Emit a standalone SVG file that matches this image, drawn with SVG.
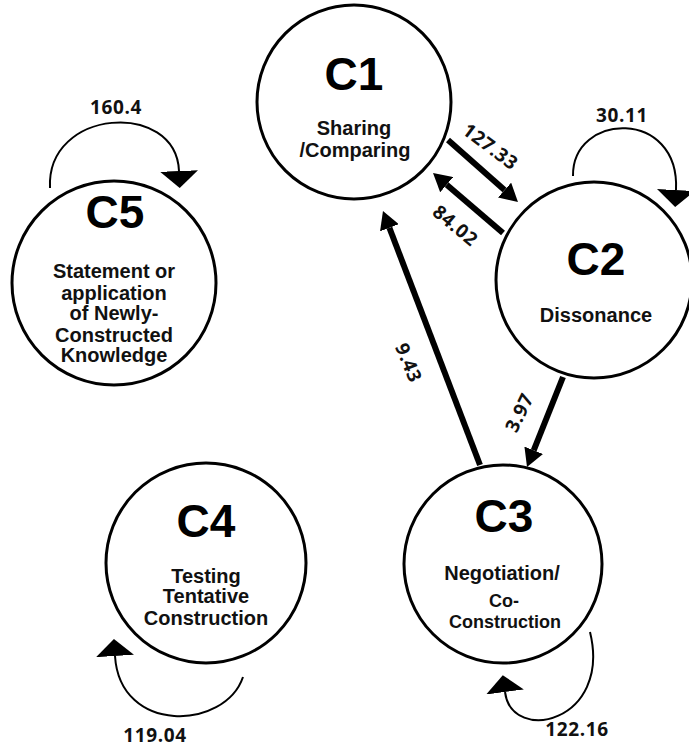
<svg xmlns="http://www.w3.org/2000/svg" width="689" height="749" viewBox="0 0 689 749">
<style>
.node{fill:#fff;stroke:#000;stroke-width:3}
.title{font-family:"Liberation Sans",Arial,sans-serif;font-weight:bold;font-size:46px;text-anchor:middle;fill:#000}
.body{font-family:"Liberation Sans",Arial,sans-serif;font-weight:bold;font-size:20px;text-anchor:middle;fill:#111}
.small{font-size:18px}
.edge{fill:none;stroke:#000;stroke-width:6}
.loop{fill:none;stroke:#000;stroke-width:2}
.lbl{font-family:"Open Sans","Liberation Sans",sans-serif;font-weight:bold;font-size:19px;letter-spacing:0.6px;text-anchor:middle;fill:#111}
</style>
<defs>
<marker id="head" markerUnits="userSpaceOnUse" markerWidth="18" markerHeight="20" refX="0" refY="10" orient="auto">
<path d="M0,0 L18,10 L0,20 Z" fill="#000"/>
</marker>
<marker id="loophead" markerUnits="userSpaceOnUse" markerWidth="18" markerHeight="38" refX="0" refY="19" orient="auto">
<path d="M0,0 L17,19 L0,38 Z" fill="#000"/>
</marker>
</defs>
<rect width="689" height="749" fill="#fff"/>

<g id="connectors">
<line class="edge" x1="448" y1="140" x2="504.5" y2="190.1" marker-end="url(#head)"/>
<line class="edge" x1="503" y1="233" x2="446.7" y2="184.7" marker-end="url(#head)"/>
<line class="edge" x1="480" y1="465" x2="389.4" y2="227.8" marker-end="url(#head)"/>
<line class="edge" x1="563" y1="377" x2="533.7" y2="450.3" marker-end="url(#head)"/>
<path class="loop" d="M50,188 C46,108 176,100 179,171" marker-end="url(#loophead)"/>
<path class="loop" d="M573,176 C572,112 680,108 676,190" marker-end="url(#loophead)"/>
<path class="loop" d="M590,632 C612,722 512,745 505,692" marker-end="url(#loophead)"/>
<path class="loop" d="M243,677 C225,730 120,735 115,656" marker-end="url(#loophead)"/>
<text class="lbl" x="116" y="114">160.4</text>
<text class="lbl" x="622" y="122">30.11</text>
<text class="lbl" x="155" y="742">119.04</text>
<text class="lbl" x="577" y="736">122.16</text>
<text class="lbl" transform="translate(490,147) rotate(37)" y="6">127.33</text>
<text class="lbl" transform="translate(455,226) rotate(40)" y="6">84.02</text>
<text class="lbl" transform="translate(408,363) rotate(68)" y="6">9.43</text>
<text class="lbl" transform="translate(520,413) rotate(-64)" y="6">3.97</text>
</g>

<g id="C1">
<circle class="node" cx="354" cy="102" r="97"/>
<text class="title" x="354" y="90">C1</text>
<text class="body" x="354" y="135">Sharing</text>
<text class="body" x="355" y="157">/Comparing</text>
</g>

<g id="C2">
<circle class="node" cx="594" cy="280" r="98"/>
<text class="title" x="596" y="275">C2</text>
<text class="body" x="596" y="322">Dissonance</text>
</g>

<g id="C3">
<circle class="node" cx="503" cy="564" r="99"/>
<text class="title" x="504" y="532">C3</text>
<text class="body" x="502" y="580">Negotiation/</text>
<text class="body small" x="504" y="607">Co-</text>
<text class="body small" x="505" y="628">Construction</text>
</g>

<g id="C4">
<circle class="node" cx="206" cy="563" r="100"/>
<text class="title" x="206" y="537">C4</text>
<text class="body" x="206" y="583">Testing</text>
<text class="body" x="206" y="603">Tentative</text>
<text class="body" x="206" y="625">Construction</text>
</g>

<g id="C5">
<circle class="node" cx="114" cy="283" r="102"/>
<text class="title" x="115" y="228">C5</text>
<text class="body" x="114" y="278">Statement or</text>
<text class="body" x="114" y="300">application</text>
<text class="body" x="114" y="320">of Newly-</text>
<text class="body" x="114" y="342">Constructed</text>
<text class="body" x="114" y="362">Knowledge</text>
</g>
</svg>
